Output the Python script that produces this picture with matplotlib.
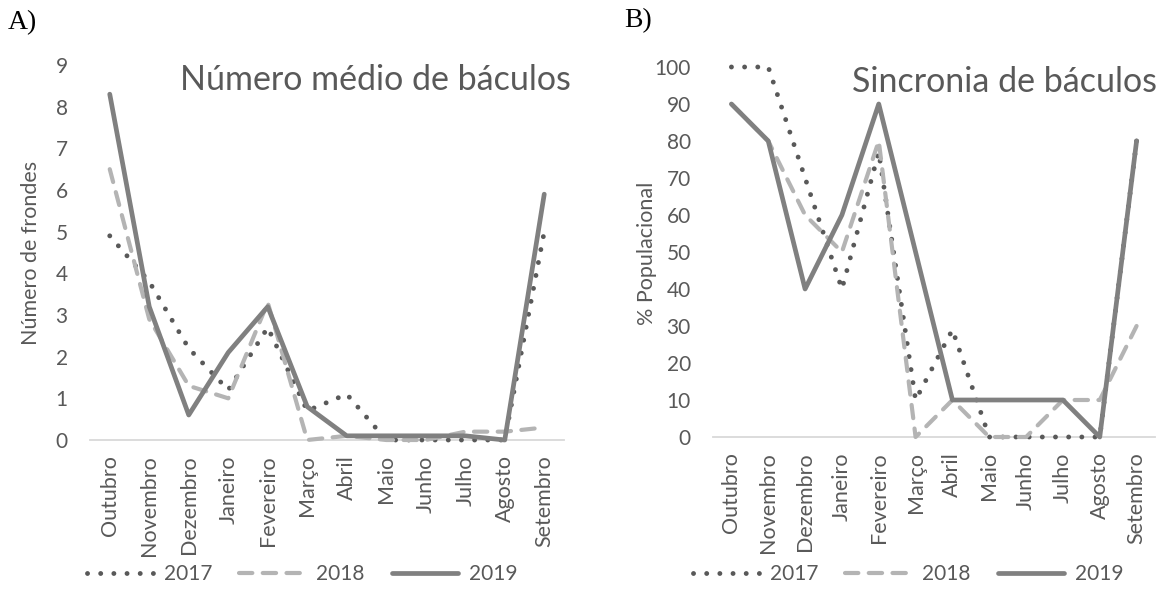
import matplotlib.pyplot as plt
import numpy as np

plt.rcParams['font.family'] = ['Lato', 'DejaVu Sans']

meses = ['Outubro', 'Novembro', 'Dezembro', 'Janeiro', 'Fevereiro', 'Março',
         'Abril', 'Maio', 'Junho', 'Julho', 'Agosto', 'Setembro']
anos = ['2017', '2018', '2019']

# A) numero medio de baculos
frondes_2017 = [4.9, 3.8, 2.2, 1.2, 2.7, 0.7, 1.1, 0.0, 0.0, 0.0, 0.0, 5.0]
frondes_2018 = [6.5, 2.9, 1.3, 1.0, 3.3, 0.0, 0.1, 0.0, 0.0, 0.2, 0.2, 0.3]
frondes_2019 = [8.3, 3.2, 0.6, 2.1, 3.2, 0.8, 0.1, 0.1, 0.1, 0.1, 0.0, 5.9]

# B) sincronia de baculos (%)
sinc_2017 = [100, 100, 70, 40, 77, 10, 29, 0, 0, 0, 0, 80]
sinc_2018 = [90, 80, 60, 50, 80, 0, 10, 0, 0, 10, 10, 30]
sinc_2019 = [90, 80, 40, 60, 90, 50, 10, 10, 10, 10, 0, 80]

txt = '#595959'
estilos = {
    '2017': dict(color='#595959', lw=3.5, linestyle=(0, (0.01, 2.7)), dash_capstyle='round'),
    '2018': dict(color='#b4b4b4', lw=3.0, linestyle=(0, (3.2, 2.5)), dash_capstyle='round'),
    '2019': dict(color='#808080', lw=3.4, linestyle='-', solid_capstyle='round'),
}

fig = plt.figure(figsize=(11.69, 5.90), dpi=100)


def painel(rect, series, ymax, ystep, legend_x):
    ax = fig.add_axes(rect)
    x = np.arange(len(meses))
    for ano, vals in zip(anos, series):
        ax.plot(x, vals, label=ano, clip_on=False, **estilos[ano])
    ax.set_xlim(-0.5, len(meses) - 0.5)
    ax.set_ylim(0, ymax)
    ax.set_yticks(np.arange(0, ymax + ystep / 2, ystep))
    ax.set_xticks(x)
    ax.set_xticklabels(meses, rotation=90, fontsize=15.5)
    for s in ['top', 'right', 'left']:
        ax.spines[s].set_visible(False)
    ax.spines['bottom'].set_color('#d9d9d9')
    ax.spines['bottom'].set_linewidth(1.3)
    ax.spines['bottom'].set_zorder(0)
    ax.tick_params(axis='both', length=0, colors=txt)
    ax.tick_params(axis='y', pad=16, labelsize=15)
    ax.tick_params(axis='x', pad=11)
    fig.legend(*ax.get_legend_handles_labels(), loc='center',
               bbox_to_anchor=(legend_x, 1 - 574 / 590), ncol=3, frameon=False,
               fontsize=15, labelcolor=txt, handlelength=3.2,
               handletextpad=0.5, columnspacing=1.3)
    return ax


painel([90 / 1169, 1 - 440 / 590, 474 / 1169, 375 / 590],
       [frondes_2017, frondes_2018, frondes_2019], 9, 1, 302 / 1169)
painel([713 / 1169, 1 - 437 / 590, 442 / 1169, 370 / 590],
       [sinc_2017, sinc_2018, sinc_2019], 100, 10, 908 / 1169)

fig.text(571 / 1169, 1 - 80 / 590, 'Número médio de báculos', ha='right',
         va='center', fontsize=24.5, color=txt)
fig.text(1157 / 1169, 1 - 82 / 590, 'Sincronia de báculos', ha='right',
         va='center', fontsize=24.5, color=txt)
fig.text(31 / 1169, 1 - 253 / 590, 'Número de frondes', rotation=90,
         ha='center', va='center', fontsize=15.5, color=txt)
fig.text(647 / 1169, 1 - 253 / 590, '% Populacional', rotation=90,
         ha='center', va='center', fontsize=15.5, color=txt)
fig.text(8 / 1169, 1 - 23 / 590, 'A)', ha='left', va='center', fontsize=20,
         family='Liberation Serif', color='black')
fig.text(624 / 1169, 1 - 21 / 590, 'B)', ha='left', va='center', fontsize=20,
         family='Liberation Serif', color='black')

fig.savefig('out.png', dpi=100)
